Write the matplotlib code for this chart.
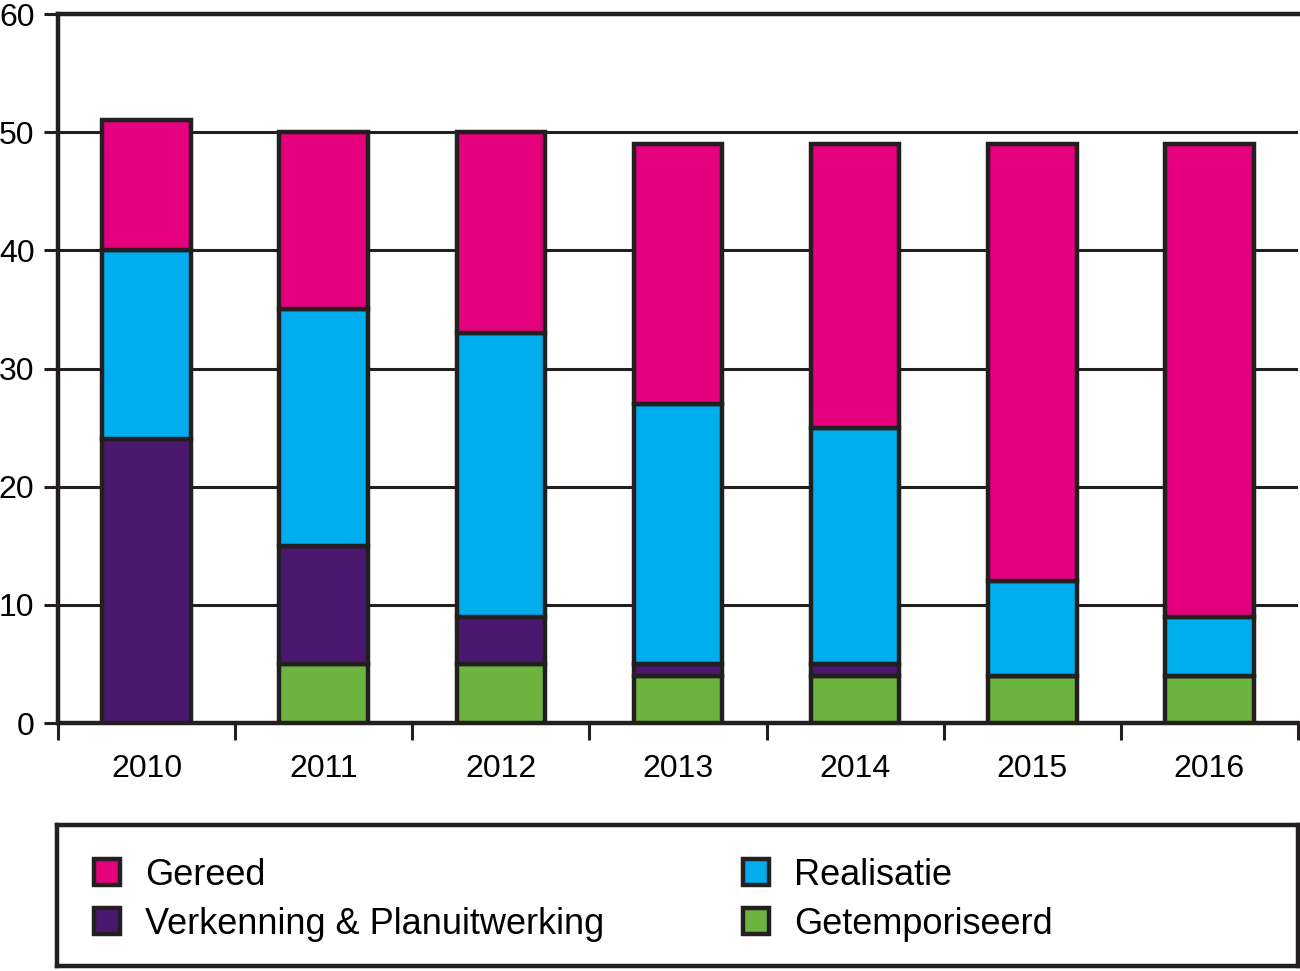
import matplotlib.pyplot as plt
import numpy as np

plt.rcParams['font.family'] = ['Liberation Sans', 'DejaVu Sans']

years = ['2010', '2011', '2012', '2013', '2014', '2015', '2016']
getemporiseerd = [0, 5, 5, 4, 4, 4, 4]
verkenning = [24, 10, 4, 1, 1, 0, 0]
realisatie = [16, 20, 24, 22, 20, 8, 5]
gereed = [11, 15, 17, 22, 24, 37, 40]

edge = '#231f20'
x = np.arange(len(years))

fig = plt.figure(figsize=(13, 9.71), dpi=100)
ax = fig.add_axes([58 / 1300, 248 / 971, 1240 / 1300, 709 / 971])

bottom = np.zeros(len(years))
series = [(getemporiseerd, '#6db33f', 'Getemporiseerd'),
          (verkenning, '#4a186e', 'Verkenning & Planuitwerking'),
          (realisatie, '#00adee', 'Realisatie'),
          (gereed, '#e5007d', 'Gereed')]
handles = {}
for vals, col, name in series:
    vals = np.array(vals, dtype=float)
    b = ax.bar(x, vals, 0.5, bottom=bottom, color=col, edgecolor=edge,
               linewidth=3.2, zorder=3, label=name)
    handles[name] = b
    bottom += vals

ax.set_xlim(-0.5, len(years) - 0.5)
ax.set_ylim(0, 60)
ax.set_yticks(range(0, 61, 10))
ax.yaxis.grid(True, color=edge, linewidth=2.2, zorder=0)
ax.set_axisbelow(True)
ax.set_xticks(x)
ax.set_xticklabels(years)
ax.set_xticks(np.arange(-0.5, len(years)), minor=True)
ax.tick_params(axis='x', which='major', length=0, pad=22, labelsize=23)
ax.tick_params(axis='x', which='minor', length=12, width=2.2, color=edge)
ax.tick_params(axis='y', length=10, width=2.2, color=edge, labelsize=23, pad=7)
for s in ['left', 'bottom', 'top']:
    ax.spines[s].set_linewidth(3.2)
    ax.spines[s].set_color(edge)
ax.spines['right'].set_visible(False)

lax = fig.add_axes([57 / 1300, 5 / 971, 1241 / 1300, 141 / 971])
lax.set_xticks([])
lax.set_yticks([])
for s in lax.spines.values():
    s.set_linewidth(3.2)
    s.set_color(edge)
order = ['Gereed', 'Verkenning & Planuitwerking', 'Realisatie', 'Getemporiseerd']
leg = lax.legend([handles[n] for n in order], order, ncol=2, loc='center left',
                 bbox_to_anchor=(0.015, 0.47), frameon=False, fontsize=26,
                 borderpad=0, handlelength=0.72, handleheight=0.72,
                 handletextpad=0.7, columnspacing=3.85, labelspacing=0.38)

fig.savefig('out.png', dpi=100)
